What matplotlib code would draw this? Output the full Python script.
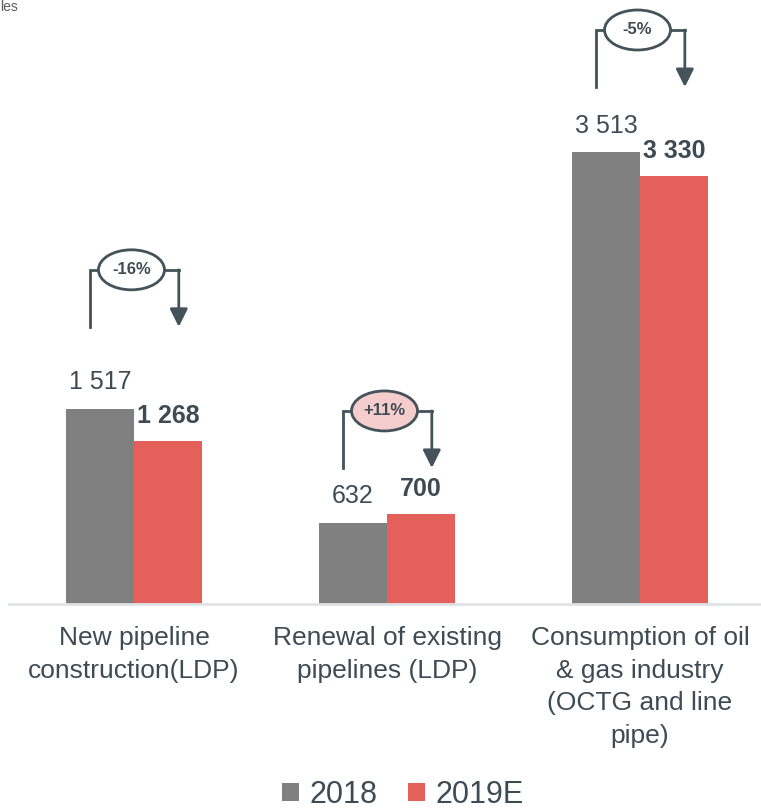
import matplotlib
matplotlib.use("Agg")
import matplotlib.pyplot as plt
from matplotlib.patches import Ellipse, Patch, FancyArrowPatch
import numpy as np

categories = ["New pipeline\nconstruction(LDP)",
              "Renewal of existing\npipelines (LDP)",
              "Consumption of oil\n& gas industry\n(OCTG and line\npipe)"]
values_2018 = [1517, 632, 3513]
values_2019 = [1268, 700, 3330]
labels_2018 = ["1 517", "632", "3 513"]
labels_2019 = ["1 268", "700", "3 330"]
pct_labels = ["-16%", "+11%", "-5%"]
series_names = ["2018", "2019E"]

# styling
GRAY = "#808080"
RED = "#e3615a"
TXT = "#3f4b54"
LINE = "#44525a"
PINK = "#f4cdcc"
pct_fill = ["white", PINK, "white"]
bracket_gap_px = [82, 46, 65]   # gap between taller bar top and bracket bottom
bracket_h_px = 57

plt.rcParams["font.family"] = ["Liberation Sans", "DejaVu Sans"]

W, H = 761, 810
fig = plt.figure(figsize=(W / 100, H / 100), dpi=100)
ax = fig.add_axes([9 / W, 206 / H, 1 - 9 / W, 604 / H])

px_per_unit_y = 452 / 3513.0
ymax = 604 / px_per_unit_y
ax.set_ylim(0, ymax)
ax.set_xlim(-0.494, 2.478)
px_per_unit_x = 253.0

x = np.arange(len(categories))
bw = 0.269
ax.bar(x - bw / 2, values_2018, bw, color=GRAY, zorder=2)
ax.bar(x + bw / 2, values_2019, bw, color=RED, zorder=2)

for xi, v, lab in zip(x, values_2018, labels_2018):
    ax.annotate(lab, (xi - bw / 2, v), xytext=(0, 19), textcoords="offset points",
                ha="center", va="center", fontsize=18, color=TXT)
for xi, v, lab in zip(x, values_2019, labels_2019):
    ax.annotate(lab, (xi + bw / 2, v), xytext=(0, 18), textcoords="offset points",
                ha="center", va="center", fontsize=18, color=TXT, fontweight="bold")

# brackets
for i, xi in enumerate(x):
    top_val = max(values_2018[i], values_2019[i])
    yb = top_val + bracket_gap_px[i] / px_per_unit_y
    yt = yb + bracket_h_px / px_per_unit_y
    xl = xi - 0.174
    xr = xi + 0.177
    ax.plot([xl, xl, xr], [yb, yt, yt], color=LINE, lw=2, solid_joinstyle="miter", zorder=3)
    arr = FancyArrowPatch((xr, yt), (xr, yb),
                          arrowstyle="-|>,head_length=0.54,head_width=0.27",
                          mutation_scale=20, color=LINE, lw=2, shrinkA=0, shrinkB=0,
                          zorder=3)
    ax.add_patch(arr)
    ell = Ellipse((xi - 0.01, yt), 66 / px_per_unit_x, 40 / px_per_unit_y,
                  facecolor=pct_fill[i], edgecolor=LINE, lw=2, zorder=4)
    ax.add_patch(ell)
    ax.text(xi - 0.01, yt, pct_labels[i], ha="center", va="center",
            fontsize=12, fontweight="bold", color=TXT, zorder=5)

for s in ["top", "right", "left"]:
    ax.spines[s].set_visible(False)
ax.spines["bottom"].set_color("#dfe3e6")
ax.spines["bottom"].set_linewidth(2)
ax.set_yticks([])
ax.set_xticks(x)
ax.set_xticklabels(categories, fontsize=19, color=TXT, linespacing=1.45)
ax.tick_params(axis="x", length=0, pad=16)

# legend
handles = [Patch(facecolor=GRAY, edgecolor="none"), Patch(facecolor=RED, edgecolor="none")]
fig.legend(handles, series_names, loc="center", bbox_to_anchor=(403 / W, 1 - 795 / H),
           ncol=2, frameon=False, fontsize=22, labelcolor=TXT,
           handlelength=0.55, handleheight=0.55, handletextpad=0.35, columnspacing=1.0)

# small (partly hidden in the original) text at the top-left
fig.text(0, 1, "les", ha="left", va="top", fontsize=10, color="#595959")

fig.savefig("out.png", dpi=100)
